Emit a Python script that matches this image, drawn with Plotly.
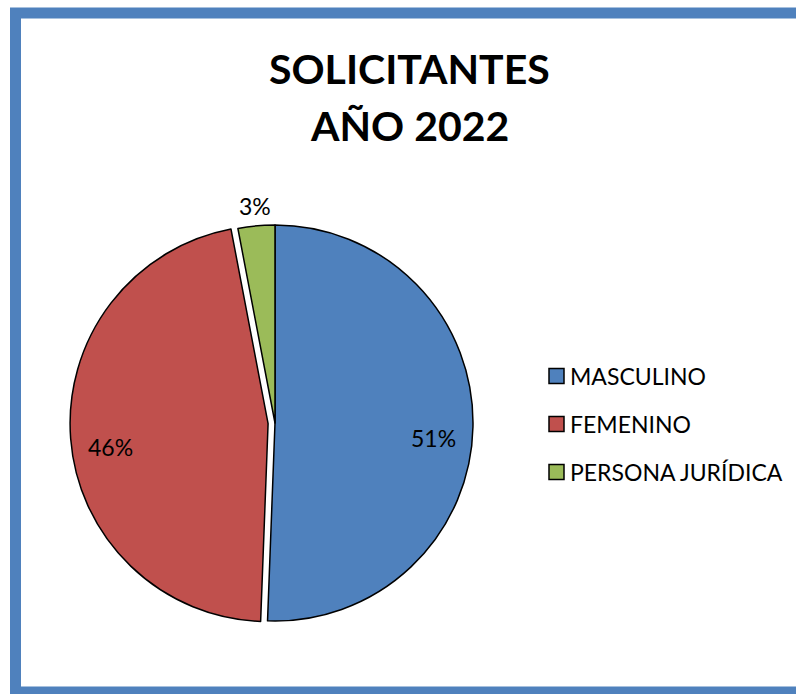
import math
import plotly.graph_objects as go

# Datos (porcentajes)
labels = ["MASCULINO", "FEMENINO", "PERSONA JURÍDICA"]
values = [50.6, 46.4, 3.0]
colors = ["#4F81BD", "#C0504D", "#9BBB59"]
pull = [0, 0.035, 0]

W, H = 796, 694
FONT = "Lato"

# geometría del pastel (px desde arriba-izquierda)
cx, cy, R = 275, 423, 198
half = R * (1 + max(pull))

fig = go.Figure(
    go.Pie(
        labels=labels,
        values=values,
        sort=False,
        direction="clockwise",
        rotation=0,
        pull=pull,
        marker=dict(colors=colors, line=dict(color="black", width=1.5)),
        textinfo="none",
        domain=dict(x=[(cx - half) / W, (cx + half) / W],
                    y=[(H - cy - half) / H, (H - cy + half) / H]),
        showlegend=False,
        hoverinfo="label+percent",
    )
)

# Etiquetas de porcentaje, al estilo Excel
annotations = []
total = sum(values)
acc = 0
for v, p in zip(values, pull):
    frac = v / total
    ang = 2 * math.pi * (acc + frac / 2)
    acc += frac
    r = 1.1 * R if frac < 0.05 else 0.8 * R + p * R
    px = cx + r * math.sin(ang)
    py = cy - r * math.cos(ang) + (0 if frac < 0.05 else 12)
    annotations.append(dict(
        x=px / W, y=(H - py) / H, xref="paper", yref="paper",
        text=f"{round(frac * 100)}%", showarrow=False,
        xanchor="center", yanchor="middle",
        font=dict(family=FONT, size=23, color="black"),
    ))

# Leyenda manual (cuadros + texto)
shapes = []
for i, (lab, col) in enumerate(zip(labels, colors)):
    yc = H - (376 + 48 * i)
    shapes.append(dict(
        type="rect", xref="paper", yref="paper",
        x0=549 / W, x1=564 / W, y0=(yc - 7.5) / H, y1=(yc + 7.5) / H,
        fillcolor=col, line=dict(color="black", width=1.5),
    ))
    annotations.append(dict(
        x=568 / W, y=yc / H, xref="paper", yref="paper",
        text=lab, showarrow=False, xanchor="left", yanchor="middle",
        font=dict(family=FONT, size=23, color="black"),
    ))

# Título
for txt, ty in [("SOLICITANTES", 68), ("AÑO 2022", 125)]:
    annotations.append(dict(
        x=410 / W, y=(H - ty) / H, xref="paper", yref="paper",
        text=f"<b>{txt}</b>", showarrow=False,
        xanchor="center", yanchor="middle",
        font=dict(family=FONT, size=41, color="black"),
    ))

# Marco azul (abierto por la derecha, sale del lienzo)
xl, xr = 15.5 / W, (W + 30) / W
yt, yb = (H - 13) / H, 2 / H
shapes.append(dict(
    type="path", xref="paper", yref="paper",
    path=f"M {xr},{yt} L {xl},{yt} L {xl},{yb} L {xr},{yb}",
    line=dict(color="#4F81BD", width=11), fillcolor="rgba(0,0,0,0)",
))

fig.update_layout(
    width=W,
    height=H,
    margin=dict(l=0, r=0, t=0, b=0),
    paper_bgcolor="white",
    plot_bgcolor="white",
    shapes=shapes,
    annotations=annotations,
)

fig.write_html(
    "out.html",
    config={"displayModeBar": False},
    post_script="document.body.style.margin='0px';"
                "document.body.style.overflow='hidden';",
)
